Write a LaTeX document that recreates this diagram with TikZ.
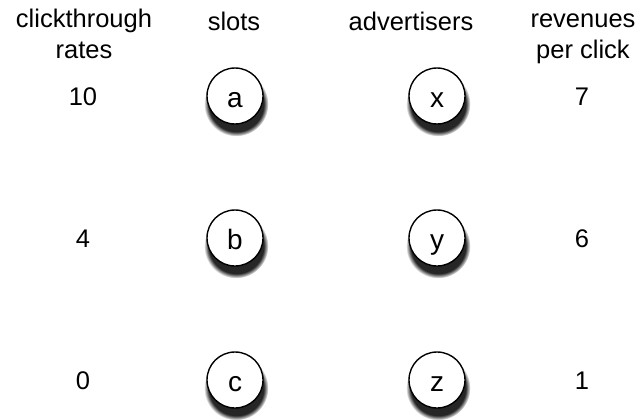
\documentclass[tikz,border=0pt]{standalone}
\usepackage{fontspec}
\setmainfont{Liberation Sans}
\usetikzlibrary{positioning,shadows}

\tikzset{
  ball/.style={circle, draw, line width=1.4pt, fill=white, minimum size=56pt, inner sep=0pt,
    font=\fontsize{28}{30}\selectfont, text height=22pt, text depth=0pt,
    circular drop shadow={shadow xshift=1pt, shadow yshift=-7pt, shadow scale=1.15, fill=black!85, opacity=1}},
  lbl/.style={align=center, inner sep=0pt, font=\fontsize{25.5}{31}\selectfont},
  head/.style={lbl, anchor=north}
}

\begin{document}
\begin{tikzpicture}[x=1pt,y=-1pt]
  \useasboundingbox (0,0) rectangle (637,420);

  % column headers
  \node[head] (h1) at (84,8.4) {clickthrough\\rates};
  \node[lbl, anchor=base] (h2) at (234,31) {slots};
  \node[lbl, anchor=base] (h3) at (411,31) {advertisers};
  \node[head] (h4) at (583,13.8) {revenues\\per click};

  % slots
  \node[ball] (a) at (235,96) {a};
  \node[ball] (b) at (235,238) {b};
  \node[ball] (c) at (235,380) {c};

  % advertisers
  \node[ball] (x) at (437,96) {x};
  \node[ball] (y) at (437,238) {y};
  \node[ball] (z) at (437,380) {z};

  % clickthrough rates
  \node[lbl] (r1) at (83,97) {10};
  \node[lbl] (r2) at (83,239) {4};
  \node[lbl] (r3) at (83,381) {0};

  % revenues per click
  \node[lbl] (v1) at (582,97) {7};
  \node[lbl] (v2) at (582,239) {6};
  \node[lbl] (v3) at (582,381) {1};
\end{tikzpicture}
\end{document}
